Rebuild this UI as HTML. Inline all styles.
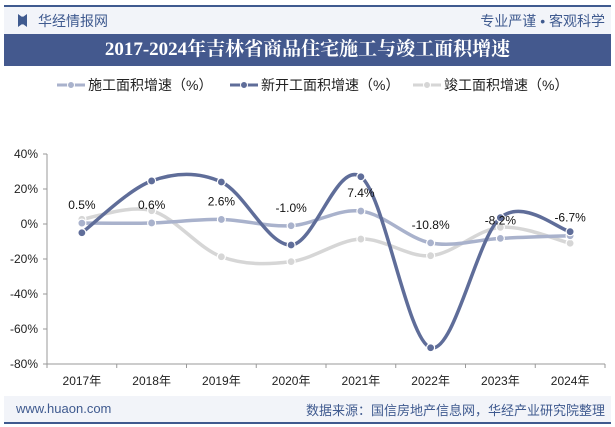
<!DOCTYPE html>
<html><head><meta charset="utf-8"><style>
body{margin:0;width:615px;height:427px;background:#fff;font-family:"Liberation Sans","Noto Sans CJK SC",sans-serif;position:relative;overflow:hidden}
.abs{position:absolute}
</style></head><body>
<div class="abs" style="left:4px;top:5px;width:607px;height:2px;background:#3f5a8f"></div>
<div class="abs" style="left:4px;top:7px;width:607px;height:27px;background:#f2f4f9"></div>
<div class="abs" style="left:18px;top:14px;width:9px;height:13px;background:#3f5a8f;clip-path:polygon(0 0,40% 20%,60% 20%,100% 0,100% 100%,60% 80%,40% 80%,0 100%)"></div>
<div class="abs" style="left:38px;top:11px;font-size:14px;color:#3f5a8f">华经情报网</div>
<div class="abs" style="right:10px;top:11px;font-size:14px;color:#3f5a8f">专业严谨 • 客观科学</div>
<div class="abs" style="left:4px;top:34px;width:607px;height:32px;background:#44598e;color:#fff;font-family:'Liberation Serif','Noto Serif CJK SC',serif;font-weight:bold;font-size:19px;text-align:center;line-height:32px">2017-2024年吉林省商品住宅施工与竣工面积增速</div>
<svg class="abs" style="left:0;top:0" width="615" height="427">
<g id="legend"></g><g id="axes"></g><g id="series"></g>
</svg>
<div class="abs" style="left:4px;top:396px;width:607px;height:26px;background:#f2f4f9"></div>
<div class="abs" style="left:16px;top:401px;font-size:13px;color:#3f5a8f">www.huaon.com</div>
<div class="abs" style="right:10px;top:400px;font-size:13px;color:#3f5a8f">数据来源：国信房地产信息网，华经产业研究院整理</div>
<div class="abs" style="left:4px;top:422px;width:607px;height:2px;background:#3f5a8f"></div>
<script>
const categories=["2017年","2018年","2019年","2020年","2021年","2022年","2023年","2024年"];
const shigong=[0.5,0.6,2.6,-1.0,7.4,-10.8,-8.2,-6.7];
const xinkai=[-5,24.6,24,-12,27,-70.7,3.6,-4.4];
const jungong=[2.7,7.6,-18.7,-21.5,-8.6,-18.1,-1.9,-11];
const shigongLabels=["0.5%","0.6%","2.6%","-1.0%","7.4%","-10.8%","-8.2%","-6.7%"];
const yTicks=[40,20,0,-20,-40,-60,-80];
const NS="http://www.w3.org/2000/svg";
const L=47,R=605,T=154,B=364;
const x=i=>L+(R-L)/categories.length*(i+0.5);
const y=v=>T+(40-v)/120*(B-T);
function mk(t,a,p){const e=document.createElementNS(NS,t);for(const k in a)e.setAttribute(k,a[k]);p.appendChild(e);return e;}
const ax=document.getElementById('axes');
let yl=mk('line',{x1:L,y1:T,x2:L,y2:B,stroke:'#999'},ax);


let xl=mk('line',{x1:L,y1:B,x2:R,y2:B,stroke:'#999'},ax);


yTicks.forEach(v=>{mk('line',{x1:L-4,y1:y(v),x2:L,y2:y(v),stroke:'#999'},ax);
const t=mk('text',{x:L-9,y:y(v)+4,'text-anchor':'end','font-size':12,fill:'#222'},ax);t.textContent=v+'%';

});
categories.forEach((c,i)=>{const bx=L+(R-L)/categories.length*i;mk('line',{x1:bx,y1:B,x2:bx,y2:B+4,stroke:'#999'},ax);
const t=mk('text',{x:x(i),y:B+21,'text-anchor':'middle','font-size':12,fill:'#222'},ax);t.textContent=c;

});
mk('line',{x1:R,y1:B,x2:R,y2:B+4,stroke:'#999'},ax);
function path(vals){const p=vals.map((v,i)=>[x(i),y(v)]);let d=`M${p[0][0]},${p[0][1]}`;
for(let i=0;i<p.length-1;i++){const p0=p[i-1]||p[i],p1=p[i],p2=p[i+1],p3=p[i+2]||p2;const k=1/6;
d+=` C${p1[0]+(p2[0]-p0[0])*k},${p1[1]+(p2[1]-p0[1])*k} ${p2[0]-(p3[0]-p1[0])*k},${p2[1]-(p3[1]-p1[1])*k} ${p2[0]},${p2[1]}`;}return d;}
const sg=document.getElementById('series');
const series=[[jungong,'#d6d6d6','jungong'],[shigong,'#a9b2cc','shigong'],[xinkai,'#5f6d99','xinkai']];
series.forEach(([vals,col,nm])=>{const g=mk('g',{},sg);
mk('path',{d:path(vals),fill:'none',stroke:col,'stroke-width':3.5},g);
vals.forEach((v,i)=>{const c=mk('circle',{cx:x(i),cy:y(v),r:4,fill:col,stroke:'#fff','stroke-width':1.2},g);

});});
shigong.forEach((v,i)=>{const t=mk('text',{x:x(i),y:y(v)-14,'text-anchor':'middle','font-size':12,fill:'#111'},sg);t.textContent=shigongLabels[i];

});
const lg=document.getElementById('legend');
[['施工面积增速（%）','#a9b2cc',57],['新开工面积增速（%）','#5f6d99',230],['竣工面积增速（%）','#d6d6d6',413]].forEach(([n,c,lx])=>{
const g=mk('g',{},lg);
mk('line',{x1:lx,y1:85,x2:lx+28,y2:85,stroke:c,'stroke-width':3},g);
mk('circle',{cx:lx+14,cy:85,r:3.5,fill:c,stroke:'#fff'},g);
const t=mk('text',{x:lx+31,y:90,'font-size':14,fill:'#222'},g);t.textContent=n;});
</script>
</body></html>
